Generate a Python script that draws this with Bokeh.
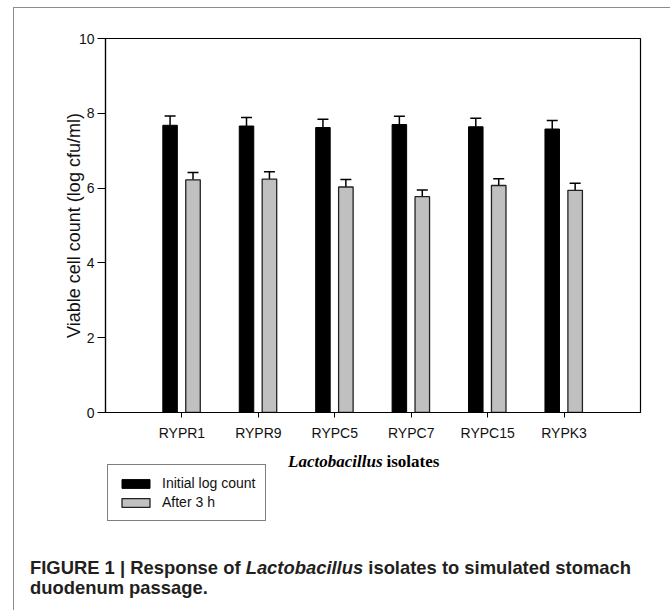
from bokeh.plotting import figure
from bokeh.layouts import column
from bokeh.models import (Range1d, FixedTicker, Whisker, ColumnDataSource, Div,
                          Legend, LegendItem, TeeHead, Label)
from bokeh.embed import file_html
from bokeh.resources import INLINE

isolates = ["RYPR1", "RYPR9", "RYPC5", "RYPC7", "RYPC15", "RYPK3"]
initial = [7.68, 7.66, 7.62, 7.70, 7.64, 7.58]
initial_err = [0.25, 0.23, 0.22, 0.22, 0.23, 0.23]
after3h = [6.22, 6.24, 6.03, 5.77, 6.07, 5.94]
after3h_err = [0.20, 0.20, 0.20, 0.18, 0.18, 0.19]
y_ticks = [0, 2, 4, 6, 8, 10]
series_names = ["Initial log count", "After 3 h"]

pos = [i + 1 for i in range(len(isolates))]
x_init = [p_ - 0.155 for p_ in pos]
x_after = [p_ + 0.145 for p_ in pos]

font = "Liberation Sans"
W, HP, HQ, HD = 653, 436, 84, 80
BL, BR = 91, 27          # shared left/right borders (frames are aligned)
FW = W - BL - BR         # frame width in px

# ---------------- main chart ----------------
p = figure(width=W, height=HP, output_backend="svg", toolbar_location=None,
           x_range=Range1d(0, 7), y_range=Range1d(0, 10),
           min_border_left=BL, min_border_right=BR, min_border_top=30,
           min_border_bottom=HP - 404)
p.background_fill_color = "white"
p.border_fill_color = "white"
p.outline_line_color = "black"
p.outline_line_width = 1.2
p.xgrid.visible = False
p.ygrid.visible = False

src_i = ColumnDataSource(dict(x=x_init, top=initial,
                              up=[a + b for a, b in zip(initial, initial_err)]))
src_a = ColumnDataSource(dict(x=x_after, top=after3h,
                              up=[a + b for a, b in zip(after3h, after3h_err)]))

for src in (src_i, src_a):
    p.add_layout(Whisker(source=src, base="x", lower="top", upper="up",
                         dimension="height", line_color="black", line_width=1.5,
                         lower_head=None,
                         upper_head=TeeHead(size=11, line_color="black",
                                            line_width=1.5)))

bar_i = dict(fill_color="black", line_color="black", line_width=1)
bar_a = dict(fill_color="#c0c0c0", line_color="#222222", line_width=1.3)
p.vbar(x="x", top="top", width=0.19, source=src_i, **bar_i)
p.vbar(x="x", top="top", width=0.19, source=src_a, **bar_a)

p.xaxis.ticker = FixedTicker(ticks=pos)
p.xaxis.major_label_overrides = {p_: n for p_, n in zip(pos, isolates)}
p.yaxis.ticker = FixedTicker(ticks=y_ticks)
for ax in (p.xaxis, p.yaxis):
    ax.axis_line_color = "black"
    ax.axis_line_width = 1.2
    ax.major_tick_line_color = "black"
    ax.major_tick_in = 0
    ax.minor_tick_line_color = None
    ax.major_label_text_font = font
    ax.major_label_text_font_size = "14px"
    ax.major_label_text_color = "#111111"
p.xaxis.major_tick_out = 5
p.yaxis.major_tick_out = 8
p.xaxis.major_label_standoff = 7
p.yaxis.major_label_standoff = 3

p.yaxis.axis_label = "Viable cell count (log cfu/ml)"
p.yaxis.axis_label_text_font = font
p.yaxis.axis_label_text_font_size = "18px"
p.yaxis.axis_label_text_font_style = "normal"
p.yaxis.axis_label_text_color = "#111111"
p.yaxis.axis_label_standoff = -8

# ---------------- x title + legend strip ----------------
q = figure(width=W, height=HQ, output_backend="svg", toolbar_location=None,
           x_range=Range1d(0, FW), y_range=Range1d(HQ, 0),
           x_axis_type=None, y_axis_type=None,
           min_border_left=BL, min_border_right=BR, min_border_top=0,
           min_border_bottom=0)
q.outline_line_color = None
q.grid.visible = False
q.background_fill_color = "white"
q.border_fill_color = "white"

q.add_layout(Label(x=277, y=17, text="Lactobacillus", text_align="right",
                   text_baseline="alphabetic", text_font="Liberation Serif",
                   text_font_size="17px", text_font_style="bold italic",
                   text_color="black"))
q.add_layout(Label(x=281, y=17, text="isolates", text_align="left",
                   text_baseline="alphabetic", text_font="Liberation Serif",
                   text_font_size="17px", text_font_style="bold",
                   text_color="black"))

# legend swatches come from the same series (hidden glyphs in this strip)
l1 = q.vbar(x="x", top="top", width=0.19, source=src_i, visible=False, **bar_i)
l2 = q.vbar(x="x", top="top", width=0.19, source=src_a, visible=False, **bar_a)
legend = Legend(items=[LegendItem(label=series_names[0], renderers=[l1]),
                       LegendItem(label=series_names[1], renderers=[l2])],
                location=(2, 7), orientation="vertical")
legend.border_line_color = "black"
legend.border_line_width = 1
legend.background_fill_color = "white"
legend.background_fill_alpha = 1
legend.inactive_fill_alpha = 0
legend.label_text_font = font
legend.label_text_font_size = "14px"
legend.label_text_color = "#111111"
legend.glyph_width = 35
legend.glyph_height = 11
legend.label_height = 11
legend.spacing = 3
legend.padding = 10
legend.margin = 0
legend.label_standoff = 9
q.add_layout(legend, "center")

# ---------------- caption ----------------
caption = Div(
    text=('<div style="font-family:\'Liberation Sans\',Arial,sans-serif;'
          'font-size:18.4px;font-weight:bold;line-height:20px;color:#231f20;'
          'padding-left:11px;padding-top:25px;white-space:nowrap;">'
          'FIGURE 1 | Response of <i>Lactobacillus</i> isolates to simulated stomach'
          '<br>duodenum passage.</div>'),
    width=W, height=HD)

layout = column(p, q, caption, spacing=0, margin=(7, 0, 0, 13),
                styles={"border-left": "1px solid #8c8c8c",
                        "border-top": "1px solid #8c8c8c",
                        "border-right": "1px solid #8c8c8c"})

open("out.html", "w").write(file_html(layout, INLINE))
